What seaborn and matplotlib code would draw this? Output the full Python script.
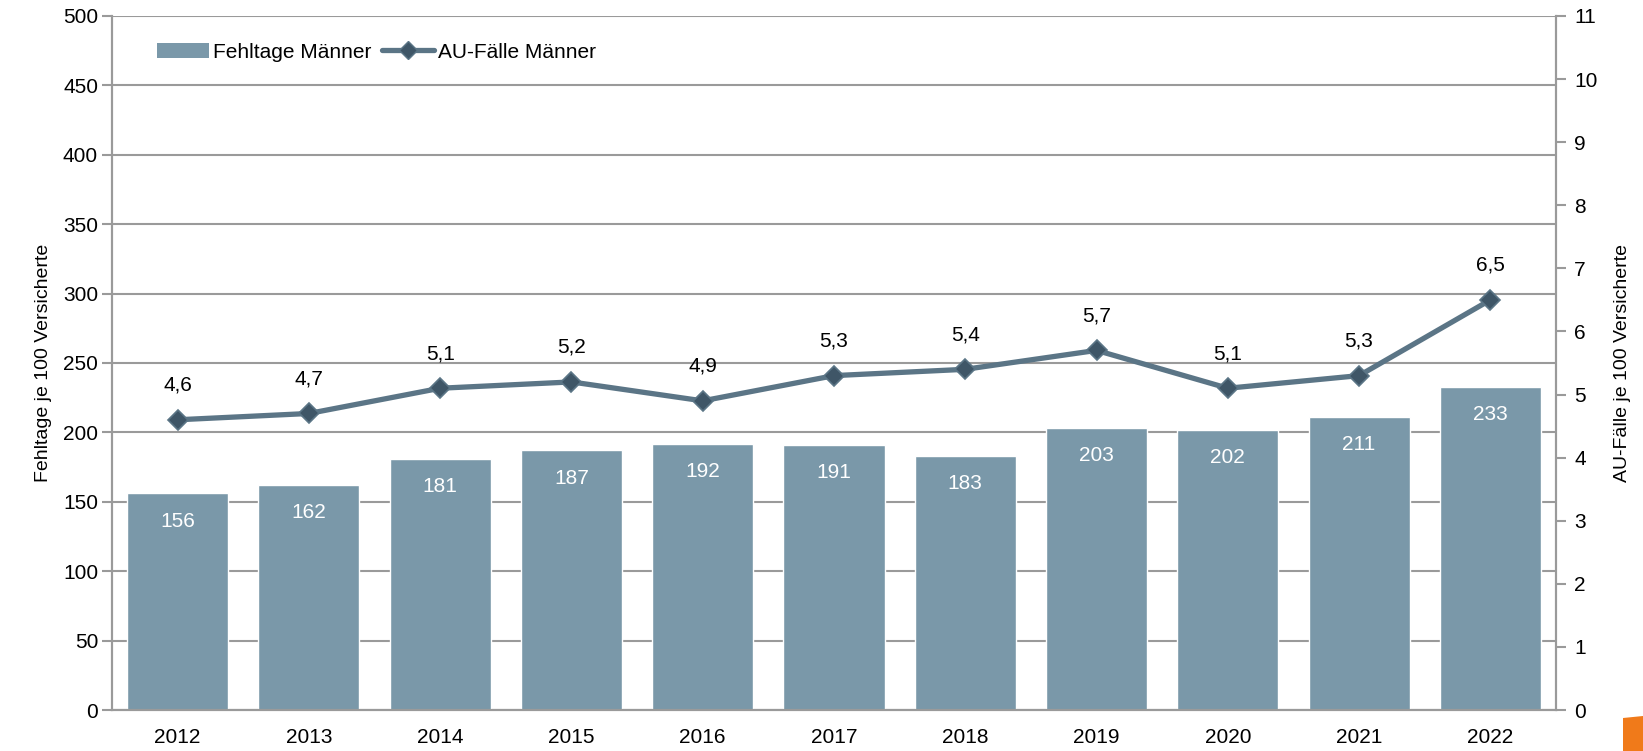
import matplotlib
matplotlib.use("Agg")
import matplotlib.pyplot as plt
from matplotlib.lines import Line2D
from matplotlib.patches import Patch, Polygon
import numpy as np
import pandas as pd
import seaborn as sns

years = ["2012", "2013", "2014", "2015", "2016", "2017", "2018", "2019", "2020", "2021", "2022"]
fehltage = [156, 162, 181, 187, 192, 191, 183, 203, 202, 211, 233]
au_faelle = [4.6, 4.7, 5.1, 5.2, 4.9, 5.3, 5.4, 5.7, 5.1, 5.3, 6.5]

bar_colour = "#7a98a9"
line_colour = "#5b7586"
marker_colour = "#3f5667"
grey = "#9a9a9a"

sns.set_style("white")
plt.rcParams["font.family"] = ["Liberation Sans", "DejaVu Sans"]
plt.rcParams["text.color"] = "black"
plt.rcParams["xtick.labelcolor"] = "black"
plt.rcParams["ytick.labelcolor"] = "black"
plt.rcParams["axes.labelcolor"] = "black"

df = pd.DataFrame({"Jahr": years, "Fehltage": fehltage, "AU": au_faelle})
x = np.arange(len(years))

fig = plt.figure(figsize=(16.43, 7.51), dpi=100)
ax = fig.add_axes([112 / 1643, 41 / 751, 1444 / 1643, 694 / 751])

sns.barplot(data=df, x="Jahr", y="Fehltage", color=bar_colour, width=0.77,
            saturation=1, ax=ax, zorder=2)
for xi, v in zip(x, fehltage):
    ax.text(xi, v - 20, str(v), ha="center", va="center", color="white", fontsize=15)

ax.set_xlim(-0.5, len(years) - 0.5)
ax.set_ylim(0, 500)
ax.set_yticks(range(0, 501, 50))
ax.yaxis.grid(True, color=grey, linewidth=1.5)
ax.set_axisbelow(True)
ax.set_xlabel("")
ax.set_ylabel("Fehltage je 100 Versicherte", fontsize=14, labelpad=8)
ax.set_xticks(x)
ax.set_xticks(np.arange(-0.5, len(years), 1), minor=True)
ax.tick_params(axis="x", which="major", length=0, labelsize=15, pad=13)
ax.tick_params(axis="x", which="minor", length=6, width=1.5, color=grey, direction="out")
ax.tick_params(axis="y", length=7, width=1.5, color=grey, direction="out", labelsize=15, pad=3)
for side in ["left", "bottom", "right"]:
    ax.spines[side].set_color(grey)
    ax.spines[side].set_linewidth(1.5)
ax.spines["top"].set_visible(False)

ax2 = ax.twinx()
sns.lineplot(x=x, y=au_faelle, ax=ax2, color=line_colour, linewidth=3.8,
             marker="D", markersize=10, markerfacecolor=marker_colour,
             markeredgecolor=line_colour, markeredgewidth=1.2, zorder=3)
for xi, v in zip(x, au_faelle):
    ax2.annotate(f"{v:.1f}".replace(".", ","), (xi, v), xytext=(0, 25),
                 textcoords="offset points", ha="center", va="center", fontsize=15)
ax2.set_ylim(0, 11)
ax2.set_yticks(range(0, 12))
ax2.set_ylabel("AU-Fälle je 100 Versicherte", fontsize=14, labelpad=12)
ax2.tick_params(axis="y", length=7, width=1.5, color=grey, direction="out", labelsize=15, pad=6)
for side in ["left", "bottom", "right"]:
    ax2.spines[side].set_color(grey)
    ax2.spines[side].set_linewidth(1.5)
ax2.spines["top"].set_visible(False)

handles = [
    Patch(facecolor=bar_colour, edgecolor="none"),
    Line2D([0], [0], color=line_colour, linewidth=3.8, marker="D", markersize=9,
           markerfacecolor=marker_colour, markeredgecolor=line_colour),
]
ax2.legend(handles, ["Fehltage Männer", "AU-Fälle Männer"], loc="center left",
           bbox_to_anchor=(0.018, 0.948), ncol=2, frameon=False, fontsize=15,
           handlelength=2.5, handletextpad=0.2, columnspacing=0.5)

# small orange corner mark bottom right
fig.patches.append(Polygon([[1623 / 1643, 1 - 718 / 751], [1.0, 1 - 716 / 751], [1.0, 0.0], [1623 / 1643, 0.0]],
                           closed=True, transform=fig.transFigure, facecolor="#f07a1a",
                           edgecolor="none"))

fig.savefig("out.png", dpi=100)
